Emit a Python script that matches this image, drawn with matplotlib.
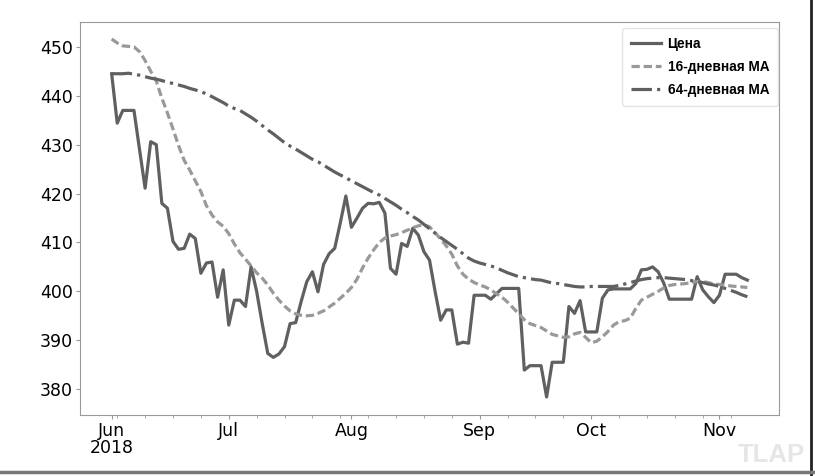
import matplotlib
matplotlib.use('Agg')
import matplotlib.pyplot as plt
import numpy as np
import pandas as pd
from matplotlib.lines import Line2D

# business days, Jun 1 2018 .. Nov 8 2018
dates = pd.bdate_range('2018-06-01', '2018-11-08')

price = [444.5, 434.4, 437.0, 437.0, 437.0, 429.0, 421.1, 430.6, 430.0, 418.0,
         417.0, 410.2, 408.6, 408.8, 411.7, 410.8, 403.7, 405.8, 406.0, 398.8,
         404.4, 393.1, 398.2, 398.2, 396.9, 405.0, 400.0, 393.4, 387.3, 386.5,
         387.2, 388.7, 393.4, 393.6, 398.0, 402.0, 404.0, 399.9, 405.5, 407.7,
         408.8, 414.0, 419.5, 413.1, 415.0, 417.0, 418.0, 417.9, 418.2, 416.0,
         404.7, 403.5, 409.8, 409.2, 412.9, 411.5, 408.1, 406.4, 400.0, 394.1,
         396.2, 396.2, 389.2, 389.6, 389.4, 399.2, 399.2, 399.2, 398.4, 399.5,
         400.6, 400.6, 400.6, 400.6, 383.9, 384.8, 384.8, 384.8, 378.4, 385.5,
         385.5, 385.5, 396.9, 395.5, 398.1, 391.7, 391.7, 391.7, 398.6, 400.3,
         400.5, 400.5, 400.5, 400.5, 401.6, 404.4, 404.5, 405.0, 404.0, 401.7,
         398.4, 398.4, 398.4, 398.4, 398.4, 403.0, 400.3, 398.9, 397.7, 399.2,
         403.5, 403.5, 403.5, 402.8, 402.3]

ma16 = [451.6, 450.8, 450.2, 450.1, 450.0, 449.0, 447.2, 445.0, 443.0, 439.5,
        436.5, 433.2, 429.8, 426.8, 424.8, 422.6, 420.4, 417.5, 415.6, 414.2,
        413.3, 411.8, 409.7, 407.9, 406.6, 405.2, 403.8, 402.7, 401.3, 399.6,
        398.2, 397.0, 396.0, 395.4, 395.1, 395.0, 395.1, 395.5, 396.0, 396.8,
        397.6, 398.6, 399.6, 400.8, 402.5, 404.8, 406.8, 408.5, 410.0, 410.9,
        411.3, 411.6, 412.0, 412.5, 413.0, 413.4, 413.6, 413.2, 412.0, 410.7,
        409.3, 407.6, 405.2, 403.5, 402.5, 401.8, 401.3, 400.9, 400.3, 399.5,
        398.8, 397.8, 396.6, 395.4, 394.2, 393.4, 393.0, 392.6, 391.9, 391.2,
        390.9, 390.6, 390.7, 391.3, 391.6, 390.6, 389.5, 389.8, 390.7, 391.8,
        393.1, 393.8, 394.0, 394.5, 396.5, 398.2, 398.8, 399.4, 400.0, 400.7,
        401.2, 401.4, 401.5, 401.6, 401.8, 402.0, 402.0, 401.8, 401.5, 401.4,
        401.3, 401.1, 401.0, 400.9, 400.8]

ma64 = [444.5, 444.5, 444.5, 444.6, 444.4, 444.2, 443.9, 443.6, 443.4, 443.1,
        442.8, 442.5, 442.2, 441.9, 441.5, 441.2, 440.8, 440.4, 439.8, 439.2,
        438.6, 437.9, 437.4, 437.0, 436.3, 435.6, 434.8, 433.9, 433.0, 432.2,
        431.3, 430.4, 429.7, 429.1, 428.4, 427.7, 427.0, 426.5, 425.8, 425.1,
        424.4, 423.8, 423.2, 422.6, 422.0, 421.4, 420.8, 420.2, 419.7, 419.0,
        418.3, 417.6, 416.8, 416.1, 415.3, 414.6, 413.7, 412.8, 411.9, 411.0,
        410.2, 409.4, 408.6, 407.7, 406.8, 406.2, 405.8, 405.5, 405.2, 404.8,
        404.3, 403.8, 403.4, 403.0, 402.8, 402.6, 402.4, 402.3, 402.0, 401.7,
        401.6, 401.4, 401.2, 401.0, 400.9, 400.9, 401.0, 401.0, 401.0, 401.0,
        401.0, 401.2, 401.5, 401.8, 402.1, 402.4, 402.6, 402.7, 402.8, 402.8,
        402.7, 402.6, 402.5, 402.4, 402.2, 402.0, 401.8, 401.5, 401.3, 401.0,
        400.6, 400.2, 399.8, 399.3, 398.9]

labels = ['Цена', '16-дневная MA', '64-дневная MA']

x = np.arange(len(dates))

fig = plt.figure(figsize=(8.15, 4.76), dpi=100)
ax = fig.add_axes([0.098, 0.128, 0.858, 0.826])

ax.plot(x, price, color='#606060', lw=2.3, label=labels[0])
ax.plot(x, ma16, color='#999999', lw=2.3, ls=(0, (2.6, 1.2)), label=labels[1])
ax.plot(x, ma64, color='#606060', lw=2.3, ls='-.', label=labels[2])

# month ticks at first business day of each month, weekly minor ticks
s = pd.Series(x, index=dates)
month_pos = s.groupby([dates.year, dates.month]).first().values
month_lab = [d.strftime('%b') for d in dates[month_pos]]
month_lab[0] = month_lab[0] + '\n2018'
ax.set_xticks(month_pos)
ax.set_xticklabels(month_lab, linespacing=0.95)
mondays = [i for i, d in enumerate(dates) if d.weekday() == 0]
ax.set_xticks(mondays, minor=True)

ax.set_ylim(374.7, 455.1)
ax.set_xlim(-5.7, len(x) - 1 + 5.7)
ax.set_yticks([380, 390, 400, 410, 420, 430, 440, 450])

for sp in ax.spines.values():
    sp.set_color('#999999')
ax.tick_params(axis='both', labelsize=12.5, colors='#999999', labelcolor='black', length=3, pad=2)
ax.tick_params(axis='x', which='minor', length=2, colors='#999999')

leg = ax.legend(loc='upper right', bbox_to_anchor=(0.9985, 0.985), borderaxespad=0,
                prop={'family': 'Liberation Sans', 'weight': 'bold', 'size': 9.8},
                frameon=True, borderpad=0.65, labelspacing=0.68, handlelength=2.2, handletextpad=0.5)
leg.get_frame().set_edgecolor('#dddddd')

fig.text(0.988, 0.018, 'TLAP', ha='right', va='bottom', fontsize=18.5, fontweight='bold',
         color='#e6e6e6', family='Liberation Sans')

fig.add_artist(Line2D([0.995, 0.995], [0.0, 1.0], transform=fig.transFigure, color='#222222', lw=2))
fig.add_artist(Line2D([0.0, 1.0], [0.009, 0.009], transform=fig.transFigure, color='#777777', lw=2.5))

fig.savefig('out.png', dpi=100)
